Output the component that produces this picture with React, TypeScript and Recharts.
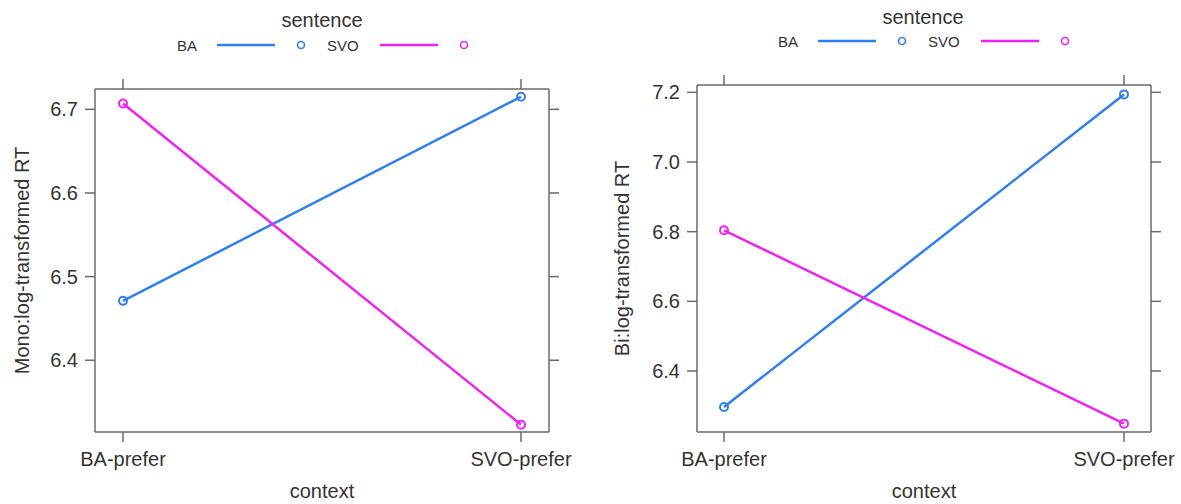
import React from "react"
import { LineChart, Line, XAxis, YAxis, Legend, Label } from "recharts"

// context conditions on the x axis
const contexts = ["BA-prefer", "SVO-prefer"]

// mean log-transformed RT per sentence type
const monoBA = [6.471, 6.715]
const monoSVO = [6.707, 6.323]
const biBA = [6.297, 7.194]
const biSVO = [6.804, 6.249]

const monoTicks = [6.4, 6.5, 6.6, 6.7]
const biTicks = [6.4, 6.6, 6.8, 7.0, 7.2]

const BLUE = "#2f7ff0"
const MAGENTA = "#f022f0"
const FRAME = "#6a6a6a"
const INK = "#333"
const FONT = "'Liberation Sans', Arial, Helvetica, sans-serif"

const toRows = (ba: number[], svo: number[]) =>
  contexts.map((context, i) => ({ context, BA: ba[i], SVO: svo[i] }))

// tick marks only, no labels (top and right frame axes)
const NoLabel = () => <g />

// legend slots: label start, line span, marker centre (relative to the key's left edge)
const KEY_SLOTS = [
  { text: 0, line: [40, 98], dot: 124 },
  { text: 150, line: [203, 261], dot: 287 },
]

function SentenceKey({ payload, x0, titleY, rowY, width }: any) {
  const items = payload ?? []
  return (
    <svg width={width} height={60} style={{ display: "block", fontFamily: FONT }}>
      <text x={x0 + 145} y={titleY} textAnchor="middle" dominantBaseline="central" fontSize={20} fill={INK}>
        sentence
      </text>
      {items.map((p: any, i: number) => {
        const s = KEY_SLOTS[i]
        if (!s) return null
        return (
          <g key={p.value}>
            <text x={x0 + s.text} y={rowY} dominantBaseline="central" fontSize={15} fill={INK}>
              {p.value}
            </text>
            <line x1={x0 + s.line[0]} x2={x0 + s.line[1]} y1={rowY} y2={rowY} stroke={p.color} strokeWidth={2.5} />
            <circle cx={x0 + s.dot} cy={rowY} r={3.5} fill="none" stroke={p.color} strokeWidth={1.6} />
          </g>
        )
      })}
    </svg>
  )
}

interface PanelProps {
  width: number
  rows: { context: string; BA: number; SVO: number }[]
  domain: [number, number]
  ticks: number[]
  yLabel: string
  yAxisWidth: number
  yLabelOffset: number
  top: number
  right: number
  padding: number
  keyX: number
  keyTitleY: number
  keyRowY: number
}

function Panel(props: PanelProps) {
  const { width, rows, domain, ticks, yLabel, yAxisWidth, yLabelOffset, top, right, padding } = props
  const tickStyle = { fontSize: 20, fill: INK, fontFamily: FONT }
  const frameLine = { stroke: FRAME, strokeWidth: 1.5 }
  return (
    <LineChart width={width} height={504} data={rows} margin={{ top, right, bottom: 0, left: 0 }}>
      <XAxis
        dataKey="context"
        height={72}
        padding={{ left: padding, right: padding }}
        tickSize={10}
        tickMargin={10}
        tick={tickStyle}
        stroke={FRAME}
        strokeWidth={1.5}
        tickLine={frameLine}
      >
        <Label value="context" position="insideBottom" offset={6} style={{ fontSize: 20, fill: INK, fontFamily: FONT }} />
      </XAxis>
      <XAxis
        xAxisId="top"
        dataKey="context"
        orientation="top"
        height={10}
        padding={{ left: padding, right: padding }}
        tickSize={10}
        tick={NoLabel}
        interval={0}
        stroke={FRAME}
        strokeWidth={1.5}
        tickLine={frameLine}
      />
      <YAxis
        type="number"
        domain={domain}
        ticks={ticks}
        allowDataOverflow
        width={yAxisWidth}
        tickSize={10}
        tickMargin={7}
        tick={tickStyle}
        tickFormatter={(v: number) => v.toFixed(1)}
        stroke={FRAME}
        strokeWidth={1.5}
        tickLine={frameLine}
      >
        <Label
          value={yLabel}
          angle={-90}
          position="insideLeft"
          offset={yLabelOffset}
          style={{ fontSize: 20, fill: INK, fontFamily: FONT, textAnchor: "middle" }}
        />
      </YAxis>
      <YAxis
        yAxisId="r"
        orientation="right"
        type="number"
        domain={domain}
        ticks={ticks}
        allowDataOverflow
        width={10}
        tickSize={10}
        tick={NoLabel}
        stroke={FRAME}
        strokeWidth={1.5}
        tickLine={frameLine}
      />
      <Legend
        layout="vertical"
        align="center"
        verticalAlign="middle"
        wrapperStyle={{ top: 0, left: 0, width, height: 60 }}
        content={(p: any) => (
          <SentenceKey payload={p.payload} x0={props.keyX} titleY={props.keyTitleY} rowY={props.keyRowY} width={width} />
        )}
      />
      <Line
        name="BA"
        dataKey="BA"
        stroke={BLUE}
        strokeWidth={2.5}
        dot={{ r: 4, fill: "none", stroke: BLUE, strokeWidth: 2 }}
        isAnimationActive={false}
      />
      <Line
        name="SVO"
        dataKey="SVO"
        stroke={MAGENTA}
        strokeWidth={2.5}
        dot={{ r: 4, fill: "none", stroke: MAGENTA, strokeWidth: 2 }}
        isAnimationActive={false}
      />
    </LineChart>
  )
}

export default function App() {
  return (
    <div style={{ position: "absolute", left: 0, top: 0, width: 1181, height: 504, background: "#fff" }}>
      <div style={{ position: "absolute", left: 0, top: 0 }}>
        <Panel
          width={590}
          rows={toRows(monoBA, monoSVO)}
          domain={[6.3142, 6.7243]}
          ticks={monoTicks}
          yLabel="Mono:log-transformed RT"
          yAxisWidth={95}
          yLabelOffset={22}
          top={79}
          right={31}
          padding={28}
          keyX={177}
          keyTitleY={20}
          keyRowY={45}
        />
      </div>
      <div style={{ position: "absolute", left: 590, top: 0 }}>
        <Panel
          width={591}
          rows={toRows(biBA, biSVO)}
          domain={[6.225, 7.221]}
          ticks={biTicks}
          yLabel="Bi:log-transformed RT"
          yAxisWidth={107}
          yLabelOffset={32}
          top={75}
          right={20}
          padding={27}
          keyX={188}
          keyTitleY={17}
          keyRowY={41}
        />
      </div>
    </div>
  )
}
